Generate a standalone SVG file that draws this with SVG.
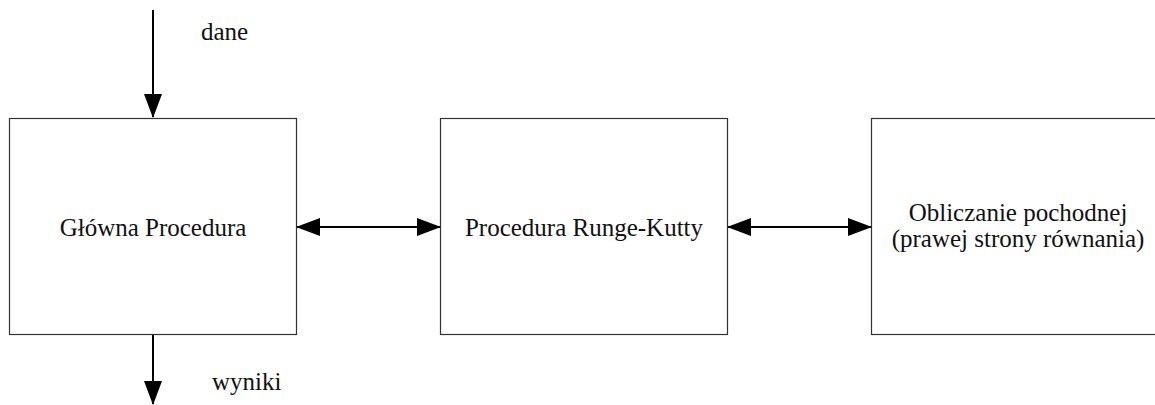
<svg xmlns="http://www.w3.org/2000/svg" width="1155" height="405" viewBox="0 0 1155 405">
<style>
.box{fill:#fff;stroke:#333;stroke-width:1.2}
.lbl{font-family:"Liberation Serif","Times New Roman",serif;font-size:25px;fill:#111}
.mid{text-anchor:middle}
.con{stroke:#000;stroke-width:2;fill:none}
</style>
<defs>
<marker id="ah" markerUnits="userSpaceOnUse" markerWidth="24" markerHeight="18" refX="23" refY="9" orient="auto-start-reverse" viewBox="0 0 24 18">
<path d="M0,0 L24,9 L0,18 z" fill="#000"/>
</marker>
</defs>
<rect width="1155" height="405" fill="#fff"/>
<g id="node-glowna">
<rect class="box" x="9.5" y="118.5" width="287" height="216"/>
<text class="lbl mid" x="153" y="236">Główna Procedura</text>
</g>
<g id="node-rk">
<rect class="box" x="440.5" y="118.5" width="287" height="216"/>
<text class="lbl mid" x="584" y="236">Procedura Runge-Kutty</text>
</g>
<g id="node-pochodna">
<rect class="box" x="871.5" y="118.5" width="295" height="216"/>
<text class="lbl mid" x="1018" y="221">Obliczanie pochodnej</text>
<text class="lbl mid" x="1018" y="247">(prawej strony równania)</text>
</g>
<g id="connectors">
<line class="con" x1="153" y1="10" x2="153" y2="117" marker-end="url(#ah)"/>
<line class="con" x1="153" y1="335" x2="153" y2="404" marker-end="url(#ah)"/>
<line class="con" x1="297" y1="227" x2="440" y2="227" marker-start="url(#ah)" marker-end="url(#ah)"/>
<line class="con" x1="728" y1="227" x2="871" y2="227" marker-start="url(#ah)" marker-end="url(#ah)"/>
</g>
<text class="lbl" x="201" y="40">dane</text>
<text class="lbl" x="212" y="390">wyniki</text>
</svg>
